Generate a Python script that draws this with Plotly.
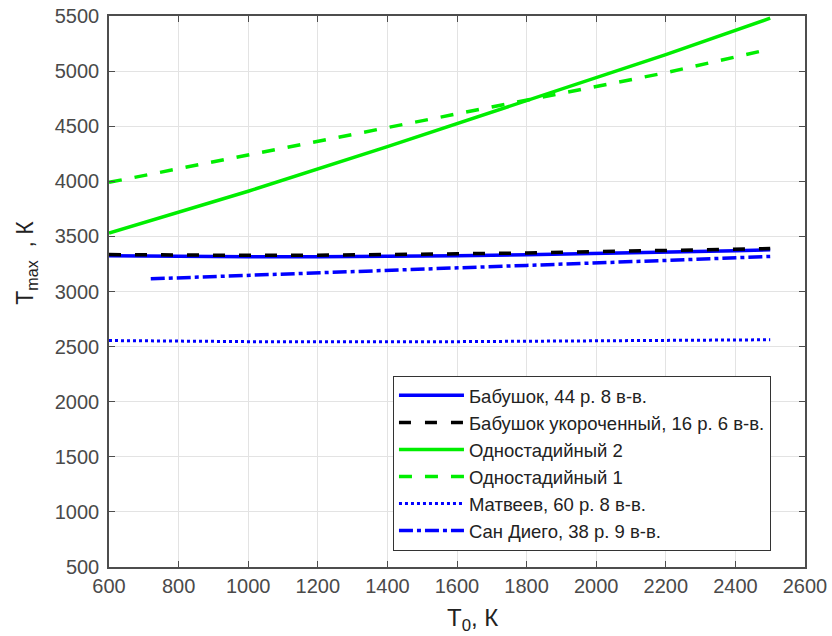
import plotly.graph_objects as go

# Data
x_bab = [600, 800, 1000, 1200, 1400, 1600, 1800, 2000, 2200, 2400, 2500]
y_bab = [3325, 3318, 3315, 3315, 3318, 3325, 3333, 3343, 3355, 3370, 3378]
y_bab_short = [3335, 3330, 3328, 3330, 3334, 3342, 3350, 3360, 3370, 3383, 3390]

x_one = [600, 1000, 1400, 1800, 2200, 2500]
y_one2 = [3530, 3910, 4315, 4735, 5150, 5480]
y_one1 = [3990, 4240, 4490, 4740, 4985, 5200]

x_mat = [600, 1000, 1500, 2000, 2500]
y_mat = [2555, 2545, 2543, 2550, 2562]

x_sd = [720, 1000, 1400, 1800, 2200, 2500]
y_sd = [3115, 3145, 3190, 3237, 3282, 3318]

names = ["Бабушок, 44 р. 8 в-в.", "Бабушок укороченный, 16 р. 6 в-в.",
         "Одностадийный 2", "Одностадийный 1",
         "Матвеев, 60 р. 8 в-в.", "Сан Диего, 38 р. 9 в-в."]

x_title = "T<sub>0</sub>, К"
y_title = "T<sub>max</sub>  , К"

BLUE = "#0000ff"
GREEN = "#00ee00"
FONT = "Liberation Sans, Arial, sans-serif"

fig = go.Figure()
fig.add_trace(go.Scatter(x=x_bab, y=y_bab, mode="lines", name=names[0],
                         line=dict(color=BLUE, width=3.5)))
fig.add_trace(go.Scatter(x=x_bab, y=y_bab_short, mode="lines", name=names[1],
                         line=dict(color="black", width=3.5, dash="12px,14px")))
fig.add_trace(go.Scatter(x=x_one, y=y_one2, mode="lines", name=names[2],
                         line=dict(color=GREEN, width=3.5)))
fig.add_trace(go.Scatter(x=x_one, y=y_one1, mode="lines", name=names[3],
                         line=dict(color=GREEN, width=3.5, dash="13px,13px")))
fig.add_trace(go.Scatter(x=x_mat, y=y_mat, mode="lines", name=names[4],
                         line=dict(color=BLUE, width=3, dash="3px,3px")))
fig.add_trace(go.Scatter(x=x_sd, y=y_sd, mode="lines", name=names[5],
                         line=dict(color=BLUE, width=3.5, dash="14px,4px,4px,4px")))

axis_common = dict(
    showgrid=True, gridcolor="#e3e3e3", gridwidth=1,
    showline=True, linecolor="#4d4d4d", linewidth=1.5, mirror="ticks",
    ticks="inside", ticklen=6, tickcolor="#4d4d4d",
    tickfont=dict(family=FONT, size=20, color="#4a4a4a"),
    zeroline=False, automargin=False,
)

fig.update_layout(
    width=832, height=636,
    margin=dict(l=109, r=27, t=16, b=69),
    paper_bgcolor="white", plot_bgcolor="white",
    font=dict(family=FONT, color="#222"),
    xaxis=dict(range=[600, 2600], dtick=200, tick0=600, **axis_common),
    yaxis=dict(range=[500, 5500], dtick=500, tick0=500, ticklabelstandoff=4, **axis_common),
    legend=dict(x=0.408, y=0.347, xanchor="left", yanchor="top",
                bgcolor="white", bordercolor="#333", borderwidth=1,
                font=dict(family=FONT, size=18.5, color="#222"),
                itemwidth=65, tracegroupgap=0),
    showlegend=True,
    annotations=[
        dict(text=x_title, xref="paper", yref="paper", x=0.5216, y=-0.096,
             xanchor="center", yanchor="middle", showarrow=False,
             font=dict(family=FONT, size=24, color="#222")),
        dict(text=y_title, xref="paper", yref="paper", x=-0.118, y=0.552,
             xanchor="center", yanchor="middle", showarrow=False, textangle=-90,
             font=dict(family=FONT, size=23, color="#222")),
    ],
)

fig.write_html("out.html")
